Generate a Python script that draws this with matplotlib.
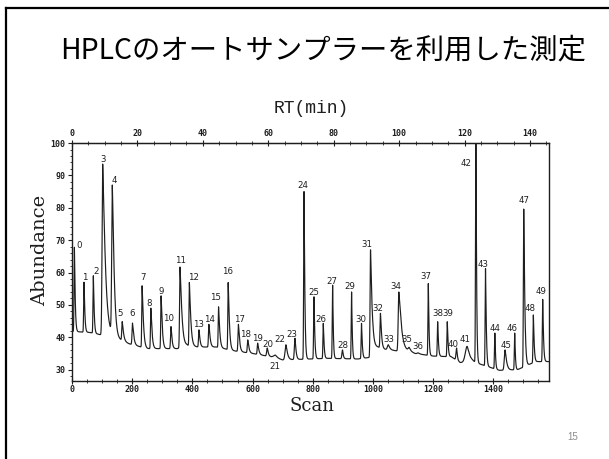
import numpy as np
import matplotlib
matplotlib.use("Agg")
import matplotlib.pyplot as plt
from matplotlib.lines import Line2D
from matplotlib.ticker import MultipleLocator

plt.rcParams['font.family'] = ['Noto Sans CJK JP', 'DejaVu Sans']

title = "HPLCのオートサンプラーを利用した測定"
page_no = "15"
x_label = "Scan"
y_label = "Abundance"
top_label = "RT(min)"

# retention time at the last scan of the run (minutes / scan)
scan_end = 1585
rt_end = 145.8

# peak number, apex scan and apex abundance
peak_ids = list(range(50))
peak_scan = [8, 40, 71, 102, 134, 167, 201, 233, 262, 296,
             329, 359, 390, 422, 455, 487, 519, 553, 584, 617,
             649, 676, 711, 741, 771, 804, 835, 866, 899, 929,
             962, 992, 1025, 1051, 1086, 1120, 1150, 1184, 1215, 1247,
             1278, 1313, 1342, 1374, 1405, 1439, 1471, 1501, 1533, 1564]
peak_abund = [67.8, 57.0, 59.0, 93.5, 86.3, 44.8, 44.4, 55.9, 49.0, 52.8,
              43.3, 61.7, 56.9, 42.3, 44.0, 49.4, 56.9, 44.0, 39.2, 38.2,
              36.7, 34.5, 37.7, 39.7, 85.0, 52.5, 44.3, 56.1, 36.1, 54.0,
              44.3, 67.0, 47.4, 37.7, 54.0, 36.8, 35.2, 56.6, 44.8, 44.8,
              36.7, 37.2, 104.0, 61.2, 41.3, 36.1, 41.3, 79.6, 46.9, 51.7]
# leading / trailing widths of each peak, in scans
peak_rise = [1.2, 1.2, 1.2, 2.0, 2.0, 1.5, 1.5, 1.2, 1.2, 1.2,
             1.5, 1.5, 1.2, 1.5, 1.5, 1.2, 1.2, 1.5, 1.5, 1.5,
             2.0, 6.0, 3.0, 2.0, 1.2, 1.2, 1.2, 1.2, 2.0, 1.2,
             1.2, 1.5, 1.5, 3.0, 2.0, 3.0, 3.0, 1.2, 1.2, 1.2,
             2.0, 6.0, 1.2, 1.2, 1.2, 2.5, 1.2, 1.2, 1.2, 1.2]
peak_tail = [3, 3, 3, 10, 7, 5, 5, 5, 4.5, 4.5,
             4, 7, 5.5, 4, 4.5, 4.5, 4.5, 4.5, 4.5, 4.5,
             4, 8, 6, 4, 3, 3, 3, 2.5, 3, 2.5,
             3, 5.5, 4, 6, 9, 6, 6, 2.5, 3, 3,
             3, 10, 2.5, 3, 2.5, 6, 2.5, 4, 3, 3]

# drifting baseline under the peaks
base_scan = [0, 60, 95, 128, 155, 190, 250, 320, 350, 380, 420, 480, 540,
             600, 660, 700, 760, 850, 950, 990, 1000, 1040, 1080, 1092,
             1140, 1200, 1260, 1290, 1330, 1380, 1420, 1480, 1505, 1540, 1585]
base_abund = [41.8, 41.5, 40.8, 41.0, 39.5, 38.0, 36.5, 36.5, 36.5, 37.5, 37.0, 37.0, 35.8,
              35.0, 34.0, 33.0, 33.2, 33.5, 33.3, 33.8, 37.5, 36.3, 35.8, 36.8,
              35.0, 34.2, 34.0, 32.2, 32.5, 31.0, 29.8, 30.0, 31.0, 32.5, 32.5]

# label placement relative to each apex (scans, abundance)
label_dx = [16, 3, 9, 0, 6, -7, -2, 2, -5, -1,
            -7, 2, 13, 0, 3, -9, -2, 3, -7, -1,
            3, -2, -20, -11, -3, 0, -9, -1, 2, -5,
            -3, -13, -8, 3, -10, -6, 0, -8, 2, 3,
            -12, -7, -34, -8, 0, 3, -9, 0, -11, -6]
label_dy = [0.6, 1.6, 1.2, 1.5, 2.0, 2.6, 2.8, 2.7, 1.5, 1.2,
            2.4, 1.9, 1.7, 1.7, 1.6, 2.8, 3.5, 1.6, 1.8, 1.3,
            1.0, -3.5, 1.7, 1.3, 1.8, 1.3, 1.3, 1.2, 1.3, 1.6,
            1.3, 1.7, 1.6, 1.5, 1.8, 2.6, 2.0, 2.3, 2.7, 2.7,
            1.0, 2.0, -10.4, 1.3, 1.3, 1.4, 1.3, 2.6, 2.1, 2.3]

scan = np.arange(0, scan_end + 0.25, 0.25)
baseline = np.interp(scan, base_scan, base_abund)
signal = baseline.copy()
for x0, top, rise, tail in zip(peak_scan, peak_abund, peak_rise, peak_tail):
    amp = top - np.interp(x0, base_scan, base_abund)
    d = scan - x0
    shape = np.where(d < 0, np.exp(-0.5 * (d / rise) ** 2),
                     np.exp(-(np.abs(d) / tail) ** 1.25))
    signal += amp * shape

fig = plt.figure(figsize=(6.09, 4.59), dpi=100)
ax = fig.add_axes([0.1182, 0.1699, 0.7833, 0.5185])

ink = '#1e1e1e'
ax.plot(scan, signal, color=ink, lw=0.85)
ax.set_xlim(0, scan_end)
ax.set_ylim(26.5, 100)

for pid, x0, top, dx, dy in zip(peak_ids, peak_scan, peak_abund, label_dx, label_dy):
    ax.text(x0 + dx, top + dy, str(pid), ha='center', va='center',
            fontsize=6.2, family='DejaVu Sans', color=ink)

tick_font = dict(family='DejaVu Sans Mono', size=6, weight='bold')
ax.xaxis.set_major_locator(MultipleLocator(200))
ax.xaxis.set_minor_locator(MultipleLocator(50))
ax.yaxis.set_major_locator(MultipleLocator(10))
ax.yaxis.set_minor_locator(MultipleLocator(2))
ax.tick_params(axis='x', which='major', direction='inout', length=4, width=0.8,
               pad=1, colors=ink)
ax.tick_params(axis='x', which='minor', direction='inout', length=2.5, width=0.6, colors=ink)
ax.tick_params(axis='y', which='major', direction='out', length=3, width=0.8,
               pad=1.5, colors=ink)
ax.tick_params(axis='y', which='minor', direction='out', length=1.8, width=0.6, colors=ink)
for lab in ax.get_xticklabels() + ax.get_yticklabels():
    lab.set_fontproperties(tick_font)

k = rt_end / scan_end
top = ax.secondary_xaxis('top', functions=(lambda s: s * k, lambda r: r / k))
top.xaxis.set_major_locator(MultipleLocator(20))
top.xaxis.set_minor_locator(MultipleLocator(5))
top.tick_params(axis='x', which='major', direction='inout', length=4, width=0.8,
                pad=1.5, colors=ink)
top.tick_params(axis='x', which='minor', direction='inout', length=2.5, width=0.6, colors=ink)
for lab in top.get_xticklabels():
    lab.set_fontproperties(tick_font)

for sp in ax.spines.values():
    sp.set_color(ink)
    sp.set_linewidth(1.0)
top.spines['top'].set_color(ink)

fig.text(0.066, 0.455, y_label, rotation=90, ha='center', va='center',
         fontsize=14, family='DejaVu Serif', color=ink)
fig.text(0.512, 1 - 411 / 459, x_label, ha='center', va='baseline',
         fontsize=13, family='DejaVu Serif', color=ink)
fig.text(0.511, 0.763, top_label, ha='center', va='center',
         fontsize=13, family='Liberation Mono', color=ink)

fig.text(0.531, 0.889, title, ha='center', va='center', fontsize=20.4,
         family=['Noto Sans CJK JP', 'DejaVu Sans'], color='black')
fig.text(0.941, 0.048, page_no, ha='center', va='center', fontsize=7,
         family='Liberation Sans', color='#8c8c8c')

# slide frame along the left and top edges
fig.add_artist(Line2D([6 / 609, 6 / 609], [0, 1 - 8 / 459], transform=fig.transFigure,
                      color='black', lw=1.6))
fig.add_artist(Line2D([6 / 609, 1], [1 - 8 / 459, 1 - 8 / 459], transform=fig.transFigure,
                      color='black', lw=1.6))

fig.savefig('out.png', dpi=100)
